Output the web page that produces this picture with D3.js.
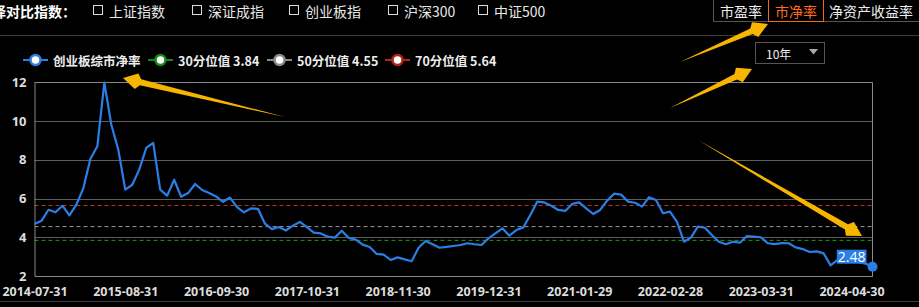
<!DOCTYPE html>
<html lang="zh">
<head>
<meta charset="UTF-8">
<title>创业板综市净率</title>
<script src="https://d3js.org/d3.v7.min.js"></script>
<style>
    body { margin: 0; background: #000; }
    svg { display: block; background: #000; font-family: "Noto Sans CJK SC", "Noto Sans", sans-serif; }
</style>
</head>
<body>
<div id="chart"></div>
<script>
// monthly categories 2014-07 .. 2024-07
const months = d3.timeMonth.range(new Date(2014, 6, 1), new Date(2024, 7, 1)).map(d3.timeFormat("%Y-%m"));

// 创业板综 市净率
const pbValues = [
    4.68, 4.85, 5.42, 5.29, 5.63, 5.13, 5.68, 6.54, 8.04, 8.70,
    11.98, 9.81, 8.52, 6.46, 6.71, 7.49, 8.61, 8.87, 6.46, 6.15,
    6.97, 6.09, 6.28, 6.75, 6.44, 6.28, 6.11, 5.83, 6.05, 5.56,
    5.29, 5.49, 5.47, 4.70, 4.42, 4.53, 4.35, 4.60, 4.79, 4.52,
    4.24, 4.20, 4.03, 3.98, 4.34, 3.96, 3.88, 3.62, 3.50, 3.14,
    3.10, 2.83, 2.96, 2.86, 2.76, 3.46, 3.81, 3.64, 3.46, 3.50,
    3.55, 3.60, 3.69, 3.64, 3.60, 3.94, 4.20, 4.46, 4.08, 4.37,
    4.51, 5.15, 5.84, 5.80, 5.63, 5.41, 5.36, 5.72, 5.80, 5.49,
    5.20, 5.41, 5.89, 6.25, 6.20, 5.84, 5.78, 5.58, 6.07, 5.92,
    5.24, 5.32, 4.80, 3.77, 3.98, 4.55, 4.49, 4.12, 3.77, 3.64,
    3.77, 3.72, 4.06, 4.03, 4.00, 3.69, 3.65, 3.70, 3.69, 3.48,
    3.39, 3.24, 3.27, 3.17, 2.55, 2.83, 2.90, 2.82, 2.72, 2.64,
    2.48
];

const percentileNames = ["30分位值", "50分位值", "70分位值"];
const percentileValues = [3.84, 4.55, 5.64];
const percentileColors = ["#1a9e1a", "#9a9a9a", "#c83018"];
const legendColors = ["#2d7fe0", "#0f8a0f", "#8a8a8a", "#b8220e"];

const yTicks = [2, 4, 6, 8, 10, 12];
const xTickLabels = ["2014-07-31", "2015-08-31", "2016-09-30", "2017-10-31", "2018-11-30",
    "2019-12-31", "2021-01-29", "2022-02-28", "2023-03-31", "2024-04-30"];

const compareIndexes = ["上证指数", "深证成指", "创业板指", "沪深300", "中证500"];
const tabs = ["市盈率", "市净率", "净资产收益率"];

const width = 919, height = 307;
const margin = { top: 82.3, right: 46.5, bottom: 31, left: 34.5 };

const svg = d3.select("#chart").append("svg")
    .attr("width", width)
    .attr("height", height);

// ---- header ----
svg.append("text")
    .attr("x", 76).attr("y", 11)
    .attr("dominant-baseline", "central")
    .attr("text-anchor", "end")
    .attr("fill", "#fff")
    .attr("font-size", 14)
    .attr("font-weight", "bold")
    .text("选择对比指数：");

const cbX = [93, 192, 289, 388, 478];
compareIndexes.forEach((name, i) => {
    svg.append("rect")
        .attr("x", cbX[i] + 0.5).attr("y", 5.5)
        .attr("width", 9).attr("height", 9)
        .attr("fill", "none").attr("stroke", "#ddd");
    svg.append("text")
        .attr("x", cbX[i] + 16).attr("y", 10.5)
        .attr("dominant-baseline", "central")
        .attr("fill", "#e8e8e8")
        .attr("font-size", 14)
        .text(name);
});

// tabs
svg.append("path")
    .attr("d", "M713.5,0 V21.5 H919")
    .attr("fill", "none").attr("stroke", "#555");
svg.append("rect")
    .attr("x", 768.5).attr("y", -1)
    .attr("width", 55).attr("height", 22.5)
    .attr("fill", "none").attr("stroke", "#f06a10");
const tabX = [741, 796, 871];
tabs.forEach((t, i) => {
    svg.append("text")
        .attr("x", tabX[i]).attr("y", 11)
        .attr("dominant-baseline", "central")
        .attr("text-anchor", "middle")
        .attr("fill", i === 1 ? "#ff6a1a" : "#eee")
        .attr("font-size", 14)
        .text(t);
});

// separators
svg.append("line").attr("x1", 0).attr("x2", width).attr("y1", 35.5).attr("y2", 35.5).attr("stroke", "#3c3c3c");
svg.append("line").attr("x1", 0).attr("x2", width).attr("y1", 301.5).attr("y2", 301.5).attr("stroke", "#3c3c3c");

// dropdown
svg.append("rect")
    .attr("x", 755.5).attr("y", 42.5)
    .attr("width", 69).attr("height", 21)
    .attr("fill", "#000").attr("stroke", "#555");
svg.append("text")
    .attr("x", 766).attr("y", 53)
    .attr("dominant-baseline", "central")
    .attr("fill", "#eee")
    .attr("font-size", 12)
    .text("10年");
svg.append("path")
    .attr("d", "M809,49 L818,49 L813.5,54.5 Z")
    .attr("fill", "#aaa");

// ---- legend ----
const legendItems = [
    { label: "创业板综市净率", x: 23 },
    { label: percentileNames[0] + " " + percentileValues[0].toFixed(2), x: 148 },
    { label: percentileNames[1] + " " + percentileValues[1].toFixed(2), x: 267 },
    { label: percentileNames[2] + " " + percentileValues[2].toFixed(2), x: 385 }
];
legendItems.forEach((d, i) => {
    const g = svg.append("g").attr("transform", `translate(${d.x},60)`);
    g.append("line").attr("x1", 0).attr("x2", 25)
        .attr("stroke", legendColors[i]).attr("stroke-width", 2);
    g.append("circle").attr("cx", 12.5).attr("r", 5)
        .attr("fill", "#fff").attr("stroke", legendColors[i]).attr("stroke-width", 2.5);
    g.append("text").attr("x", 30).attr("y", 0.5)
        .attr("dominant-baseline", "central")
        .attr("fill", "#eee")
        .attr("font-size", 12.5)
        .attr("font-weight", "bold")
        .text(d.label);
});

// ---- chart ----
const x = d3.scalePoint()
    .domain(months)
    .range([margin.left, width - margin.right]);

const y = d3.scaleLinear()
    .domain([2, 12])
    .range([height - margin.bottom, margin.top]);

// grid
svg.append("g")
    .selectAll("line")
    .data(yTicks.filter(t => t > 2))
    .enter().append("line")
    .attr("x1", margin.left).attr("x2", width - margin.right)
    .attr("y1", d => Math.round(y(d)) + 0.5).attr("y2", d => Math.round(y(d)) + 0.5)
    .attr("stroke", d => d === 12 ? "#888" : "#5e5e5e");

// right border
svg.append("line")
    .attr("x1", width - margin.right).attr("x2", width - margin.right)
    .attr("y1", y(12)).attr("y2", y(2))
    .attr("stroke", "#888");

// percentile lines
svg.append("g")
    .selectAll("line")
    .data(percentileValues)
    .enter().append("line")
    .attr("x1", margin.left).attr("x2", width - margin.right)
    .attr("y1", d => y(d)).attr("y2", d => y(d))
    .attr("stroke", (d, i) => percentileColors[i])
    .attr("stroke-dasharray", "4,3");

// axes
const yAxis = svg.append("g")
    .attr("transform", `translate(${margin.left},0)`)
    .call(d3.axisLeft(y).tickValues(yTicks).tickSize(0).tickPadding(8));
yAxis.select(".domain").attr("stroke", "#888");
yAxis.selectAll("text")
    .attr("fill", "#ddd").attr("font-size", 13).attr("font-weight", "bold")
    .attr("font-family", "'Open Sans', 'Noto Sans', sans-serif");

const xAxis = svg.append("g")
    .attr("transform", `translate(0,${height - margin.bottom})`)
    .call(d3.axisBottom(x)
        .tickValues(xTickLabels.map(l => l.slice(0, 7)))
        .tickFormat(m => xTickLabels.find(l => l.startsWith(m)))
        .tickSize(0).tickPadding(11));
xAxis.select(".domain").attr("stroke", "#888");
xAxis.selectAll("text")
    .attr("fill", "#ddd").attr("font-size", 12.5).attr("font-weight", "bold")
    .attr("font-family", "'Open Sans', 'Noto Sans', sans-serif");

// line
const line = d3.line()
    .x((d, i) => x(months[i]))
    .y(d => y(d));

svg.append("path")
    .datum(pbValues)
    .attr("fill", "none")
    .attr("stroke", "#2a7fe6")
    .attr("stroke-width", 2.2)
    .attr("stroke-linejoin", "round")
    .attr("d", line);

// last point + label
const lastI = pbValues.length - 1;
const lx = x(months[lastI]), ly = y(pbValues[lastI]);
svg.append("circle")
    .attr("cx", lx).attr("cy", ly).attr("r", 5)
    .attr("fill", "#2a7fe6");

const lblBg = svg.append("rect").attr("fill", "#2a7fe6");
const lbl = svg.append("text")
    .attr("x", lx - 7).attr("y", ly - 10)
    .attr("text-anchor", "end")
    .attr("dominant-baseline", "central")
    .attr("fill", "#fff")
    .attr("font-size", 14)
    .attr("font-family", "'Open Sans', 'Noto Sans', sans-serif")
    .text(pbValues[lastI].toFixed(2));
const bb = lbl.node().getBBox();
lblBg.attr("x", bb.x - 1).attr("y", ly - 17)
    .attr("width", bb.width + 2).attr("height", 14);

// ---- yellow annotation arrows ----
const arrows = [
    { from: [285, 117], to: [123, 78] },
    { from: [680, 62], to: [768, 24] },
    { from: [670, 108], to: [752, 69] },
    { from: [698, 140], to: [862, 236] }
];
arrows.forEach(a => {
    const [x1, y1] = a.from, [x2, y2] = a.to;
    const len = Math.hypot(x2 - x1, y2 - y1);
    const ux = (x2 - x1) / len, uy = (y2 - y1) / len;
    const px = -uy, py = ux;
    const hl = 18, hw = 8, sw = 3;
    const bx = x2 - ux * hl, by = y2 - uy * hl;
    const bx2 = x2 - ux * (hl - 4), by2 = y2 - uy * (hl - 4);
    const pts = [
        [x1, y1],
        [bx + px * sw, by + py * sw],
        [bx2 + px * hw, by2 + py * hw],
        [x2, y2],
        [bx2 - px * hw, by2 - py * hw],
        [bx - px * sw, by - py * sw]
    ];
    svg.append("polygon")
        .attr("points", pts.map(p => p.join(",")).join(" "))
        .attr("fill", "#f7b500");
});
</script>
</body>
</html>
